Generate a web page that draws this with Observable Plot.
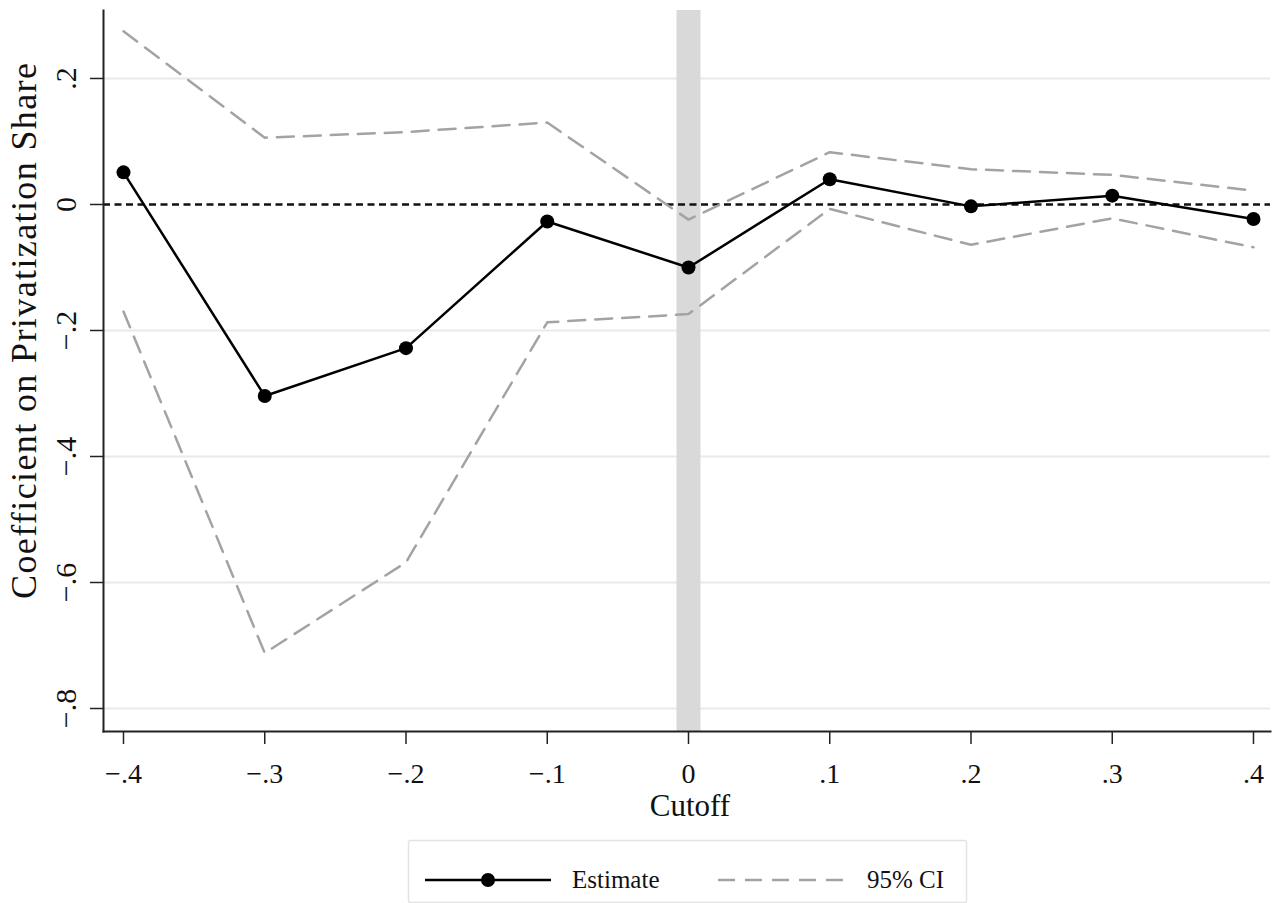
<!DOCTYPE html>
<html>
<head>
<meta charset="utf-8">
<script src="https://cdn.jsdelivr.net/npm/d3@7"></script>
<script src="https://cdn.jsdelivr.net/npm/@observablehq/plot@0.6"></script>
<style>
  html, body { margin: 0; padding: 0; background: #fff; }
  #chart svg { display: block; }
  #legend { display: block; }
</style>
</head>
<body>
<div id="chart"></div>
<svg id="legend" width="1276" height="68"></svg>
<script>
// ---- data ----
const cutoffs   = [-0.4, -0.3, -0.2, -0.1, 0, 0.1, 0.2, 0.3, 0.4];
const estimate  = [0.051, -0.304, -0.228, -0.027, -0.100, 0.040, -0.003, 0.014, -0.023];
const ciUpper   = [0.275, 0.106, 0.115, 0.130, -0.024, 0.083, 0.056, 0.047, 0.022];
const ciLower   = [-0.170, -0.712, -0.568, -0.187, -0.174, -0.007, -0.064, -0.022, -0.068];
const xTicks    = [-0.4, -0.3, -0.2, -0.1, 0, 0.1, 0.2, 0.3, 0.4];
const yTicks    = [0.2, 0, -0.2, -0.4, -0.6, -0.8];
const gridTicks = [0.2, -0.2, -0.4, -0.6, -0.8];
const markerX   = [0];
const xTitle    = "Cutoff";
const yTitle    = "Coefficient on Privatization Share";
const legendLabels = ["Estimate", "95% CI"];

const rows = cutoffs.map((c, i) => ({c, est: estimate[i], hi: ciUpper[i], lo: ciLower[i]}));
const fmt = d => d === 0 ? "0" : d3.format(".1f")(d).replace("0.", ".");
const FONT = "'Liberation Serif', 'Times New Roman', serif";

const chart = Plot.plot({
  width: 1276,
  height: 835,
  marginTop: 10,
  marginBottom: 104,
  marginLeft: 103,
  marginRight: 6,
  style: {fontFamily: FONT, color: "#111", background: "#fff"},
  x: {domain: [-0.41416, 0.41204]},
  y: {domain: [-0.8365, 0.3079]},
  marks: [
    Plot.ruleY(gridTicks, {stroke: "#e9e9e9", strokeWidth: 2}),
    Plot.ruleX(markerX, {stroke: "#d9d9d9", strokeWidth: 24}),
    Plot.ruleY([0], {stroke: "#111", strokeWidth: 2.5, strokeDasharray: "7,4.5"}),
    Plot.line(rows, {x: "c", y: "hi", stroke: "#a3a3a3", strokeWidth: 2.5, strokeDasharray: "17,10"}),
    Plot.line(rows, {x: "c", y: "lo", stroke: "#a3a3a3", strokeWidth: 2.5, strokeDasharray: "17,10"}),
    Plot.line(rows, {x: "c", y: "est", stroke: "#000", strokeWidth: 2.5}),
    Plot.dot(rows, {x: "c", y: "est", r: 7, fill: "#000", stroke: "none"}),
    Plot.axisY(yTicks, {anchor: "left", tickSize: 13, tickFormat: () => "", label: null,
      stroke: "#222", strokeWidth: 1.5}),
    Plot.axisX(xTicks, {anchor: "bottom", tickSize: 13, tickFormat: () => "", label: null,
      stroke: "#222", strokeWidth: 1.5}),
    Plot.text(yTicks, {y: d => d, text: fmt, frameAnchor: "left", dx: -28, rotate: -90,
      lineAnchor: "bottom", textAnchor: "middle", fontSize: 30, fill: "#111"}),
    Plot.text(xTicks, {x: d => d, text: fmt, frameAnchor: "bottom", dy: 32,
      lineAnchor: "top", textAnchor: "middle", fontSize: 28, fill: "#111"}),
    Plot.frame({anchor: "left", stroke: "#222", strokeWidth: 2}),
    Plot.frame({anchor: "bottom", stroke: "#222", strokeWidth: 2}),
    Plot.text([xTitle], {frameAnchor: "bottom", dy: 84, lineAnchor: "bottom", textAnchor: "middle",
      fontSize: 31, fill: "#111", dx: 3}),
    Plot.text([yTitle], {frameAnchor: "left", rotate: -90, dx: -68, dy: -40, lineAnchor: "bottom",
      textAnchor: "middle", fontSize: 36, fill: "#111", className: "ytitle"})
  ]
});
document.getElementById("chart").appendChild(chart);
// stretch y title to the reference's length
d3.select(chart).selectAll(".ytitle text").attr("textLength", 536).attr("lengthAdjust", "spacing");

// ---- legend (below the plot) ----
const lg = d3.select("#legend");
lg.append("rect").attr("x", 408.5).attr("y", 5.5).attr("width", 558).attr("height", 62)
  .attr("fill", "#fff").attr("stroke", "#e3e3e3").attr("stroke-width", 1.5).attr("rx", 2);
lg.append("line").attr("x1", 425).attr("x2", 551).attr("y1", 45).attr("y2", 45)
  .attr("stroke", "#000").attr("stroke-width", 2.5);
lg.append("circle").attr("cx", 488).attr("cy", 45).attr("r", 7).attr("fill", "#000");
lg.append("text").attr("x", 572).attr("y", 53).text(legendLabels[0])
  .attr("font-family", FONT).attr("font-size", 25).attr("fill", "#111");
lg.append("line").attr("x1", 718).attr("x2", 848).attr("y1", 45).attr("y2", 45)
  .attr("stroke", "#a3a3a3").attr("stroke-width", 2.5).attr("stroke-dasharray", "17,10");
lg.append("text").attr("x", 867).attr("y", 53).text(legendLabels[1])
  .attr("font-family", FONT).attr("font-size", 25).attr("fill", "#111");
</script>
</body>
</html>
